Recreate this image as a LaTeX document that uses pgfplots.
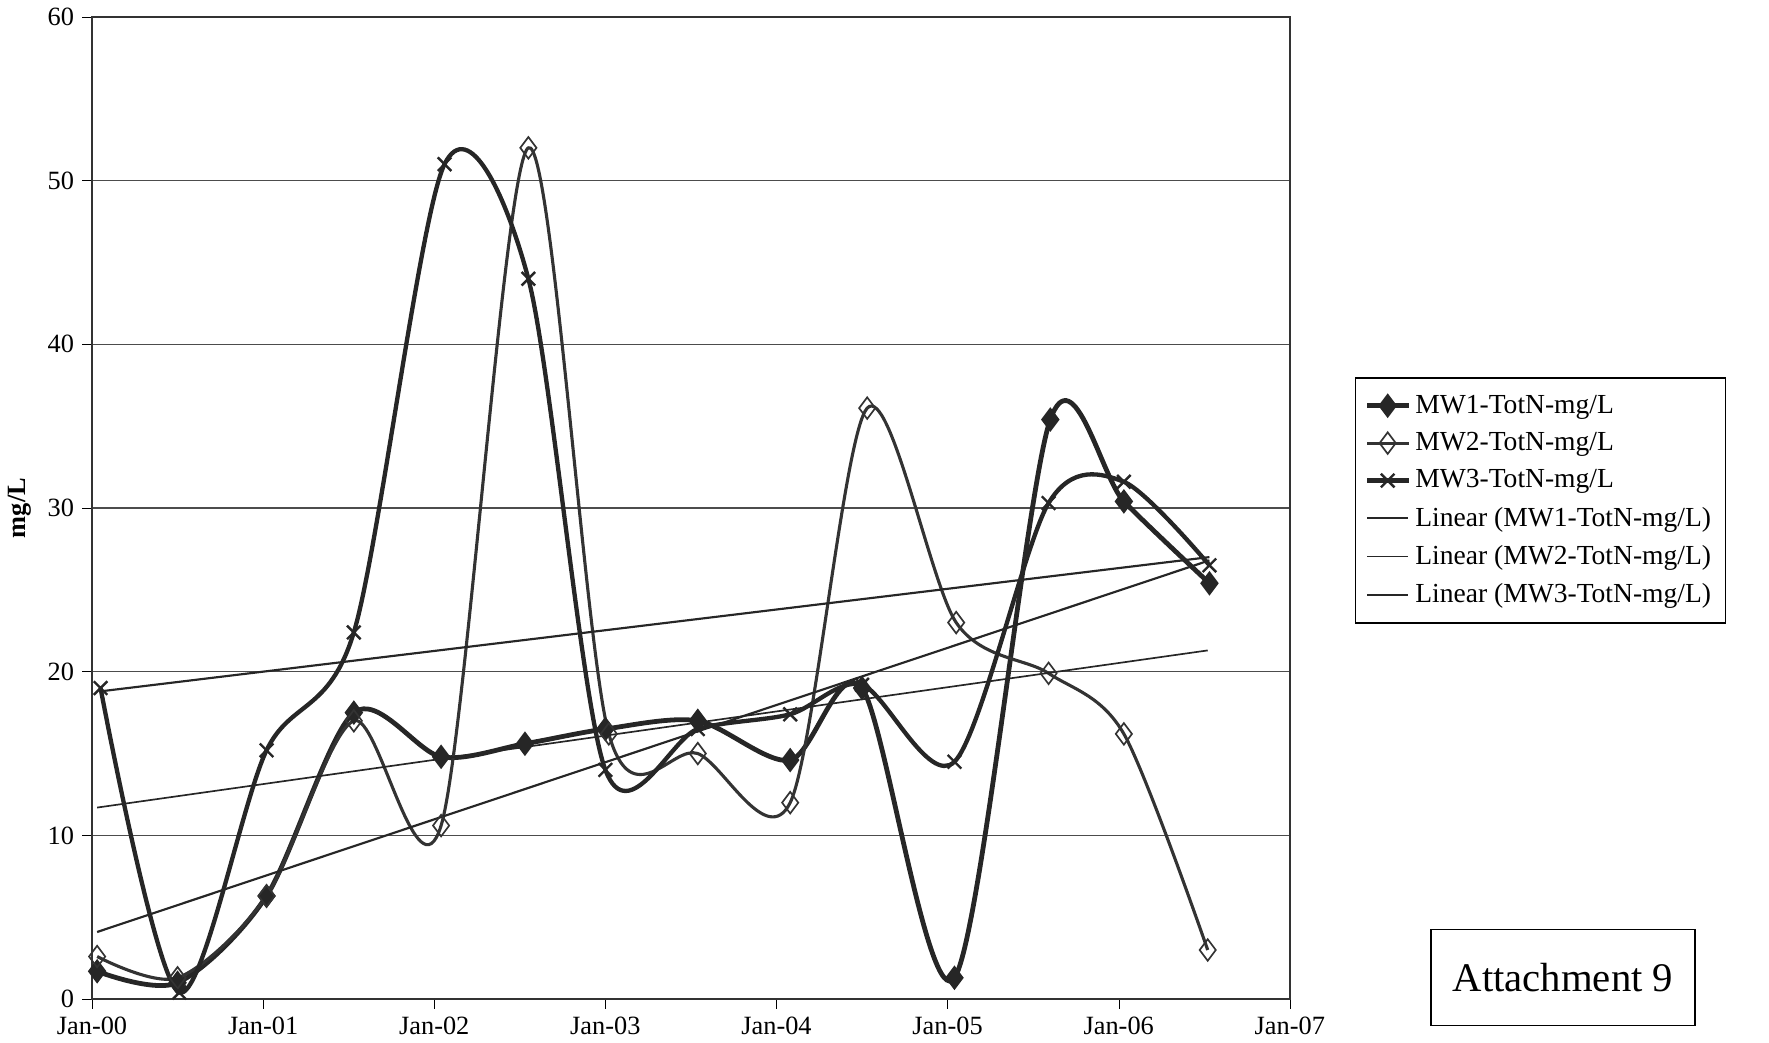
\documentclass[border=0pt]{standalone}
\usepackage{pgfplots}
\pgfplotsset{compat=1.18}
\usepackage{fontspec}
\setmainfont{Liberation Serif}
\begin{document}
\begin{tikzpicture}
\begin{axis}[
  width=500pt, height=410pt, scale only axis,
  xmin=0, xmax=7, ymin=0, ymax=60,
  xtick={0,1,...,7},
  xticklabels={Jan-00,Jan-01,Jan-02,Jan-03,Jan-04,Jan-05,Jan-06,Jan-07},
  ytick={0,10,...,60},
  xtick pos=bottom, ytick pos=left,
  ymajorgrids, major grid style={black!70, line width=0.6pt},
  tick style={black}, tick align=outside, major tick length=4pt,
  axis line style={black!80, line width=0.8pt},
  ylabel={\textbf{mg/L}}, ylabel style={font=\fontsize{11}{13}\selectfont},
  ticklabel style={font=\fontsize{11}{13}\selectfont},
  /pgf/number format/assume math mode=true,
  clip=false,
  legend style={at={(1.054,0.633)}, anchor=north west, draw=black, line width=0.6pt,
    font=\fontsize{11.5}{18}\selectfont, cells={anchor=west}, inner xsep=4pt, inner ysep=5pt,
    row sep=2.5pt},
  legend cell align=left,
]
\addplot[black!85, line width=2pt, smooth, tension=0.5, mark=diamond*, mark size=4.5pt, mark options={line width=0.8pt}] coordinates {
(0.03,1.7)(0.5,1.0)(1.02,6.3)(1.53,17.5)(2.04,14.8)(2.53,15.6)(3.0,16.5)(3.54,17.0)(4.08,14.6)(4.5,19.0)(5.04,1.3)(5.6,35.4)(6.03,30.4)(6.53,25.4)};
\addlegendentry{MW1-TotN-mg/L}
\addplot[black!80, line width=1.3pt, smooth, tension=0.5, mark=diamond, mark size=4.5pt, mark options={fill=white, line width=0.7pt}] coordinates {
(0.03,2.6)(0.5,1.3)(1.02,6.3)(1.53,17.0)(2.04,10.6)(2.55,52.0)(3.02,16.2)(3.54,15.0)(4.08,12.0)(4.53,36.1)(5.05,23.0)(5.59,19.9)(6.03,16.2)(6.52,3.0)};
\addlegendentry{MW2-TotN-mg/L}
\addplot[black!85, line width=1.8pt, smooth, tension=0.5, mark=x, mark size=4pt, mark options={line width=1pt}] coordinates {
(0.05,19.0)(0.51,0.4)(1.02,15.2)(1.53,22.4)(2.06,51.0)(2.55,44.0)(3.0,14.0)(3.54,16.5)(4.08,17.4)(4.5,19.2)(5.04,14.5)(5.59,30.3)(6.03,31.6)(6.53,26.5)};
\addlegendentry{MW3-TotN-mg/L}
\addplot[black!85, line width=0.9pt] coordinates {(0.03,4.1)(6.53,26.8)};
\addlegendentry{Linear (MW1-TotN-mg/L)}
\addplot[black!85, line width=0.7pt] coordinates {(0.03,11.7)(6.52,21.3)};
\addlegendentry{Linear (MW2-TotN-mg/L)}
\addplot[black!85, line width=0.9pt] coordinates {(0.05,18.8)(6.53,27.0)};
\addlegendentry{Linear (MW3-TotN-mg/L)}
\node[draw=black, line width=0.7pt, minimum width=110pt, minimum height=40pt, font=\fontsize{17}{19}\selectfont] at (rel axis cs:1.228,0.022) {Attachment 9};
\path (rel axis cs:1.40,0.5) -- (rel axis cs:1.40,0.6);
\end{axis}
\end{tikzpicture}
\end{document}
